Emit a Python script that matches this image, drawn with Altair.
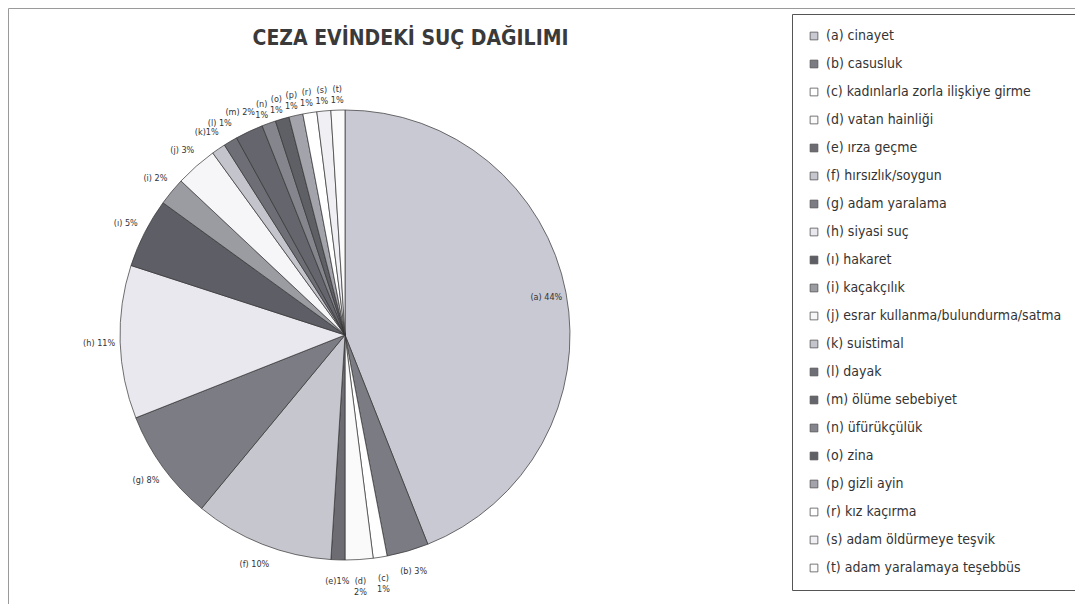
import math
import altair as alt
import pandas as pd

letters = ["a", "b", "c", "d", "e", "f", "g", "h", "ı", "i",
           "j", "k", "l", "m", "n", "o", "p", "r", "s", "t"]
names = ["cinayet", "casusluk", "kadınlarla zorla ilişkiye girme", "vatan hainliği",
         "ırza geçme", "hırsızlık/soygun", "adam yaralama", "siyasi suç", "hakaret",
         "kaçakçılık", "esrar kullanma/bulundurma/satma", "suistimal", "dayak",
         "ölüme sebebiyet", "üfürükçülük", "zina", "gizli ayin", "kız kaçırma",
         "adam öldürmeye teşvik", "adam yaralamaya teşebbüs"]
pcts = [44, 3, 1, 2, 1, 10, 8, 11, 5, 2, 3, 1, 1, 2, 1, 1, 1, 1, 1, 1]
colors = ["#c9c9d3", "#7b7b83", "#ffffff", "#fafafa", "#6c6c72", "#c6c6ce",
          "#7c7c84", "#e8e8ee", "#5e5e66", "#9b9ba2", "#f6f6f8", "#c4c4cc",
          "#6e6e76", "#65656d", "#85858d", "#5f5f66", "#a3a3ab", "#ffffff",
          "#f0f0f4", "#fbfbfb"]
two_line = {"c", "d", "n", "o", "p", "r", "s", "t"}
tight = {"e", "k"}

legend_names = [f"({l}) {n}" for l, n in zip(letters, names)]


def make_label(l, p):
    if l in two_line:
        return f"({l})\n{p}%"
    if l in tight:
        return f"({l}){p}%"
    return f"({l}) {p}%"


df = pd.DataFrame({
    "idx": list(range(len(letters))),
    "letter": letters,
    "legend": legend_names,
    "pct": pcts,
    "label": [make_label(l, p) for l, p in zip(letters, pcts)],
})

FONT = "Liberation Sans Narrow, DejaVu Sans Condensed, Arial Narrow, Liberation Sans, Arial"
CX, CY = 337, 327

theta_scale = alt.Scale(domain=[0, 100], range=[0, 2 * math.pi])

base = alt.Chart(df).transform_window(
    cum="sum(pct)", sort=[alt.SortField("idx")], frame=[None, 0]
).transform_calculate(
    start="datum.cum - datum.pct", mid="datum.cum - datum.pct / 2"
)

arcs = base.mark_arc(radius=225, stroke="#333333", strokeWidth=0.7).encode(
    theta=alt.Theta("start:Q", scale=theta_scale),
    theta2="cum:Q",
    x=alt.value(CX),
    y=alt.value(CY),
    color=alt.Color(
        "legend:N",
        scale=alt.Scale(domain=legend_names, range=colors),
        legend=alt.Legend(
            title=None, orient="none", legendX=784, legendY=6,
            symbolType="square", symbolSize=60, symbolStrokeColor="#555555",
            symbolStrokeWidth=0.8, labelFont=FONT, labelFontSize=14,
            labelColor="#333333", labelLimit=400, labelOffset=5,
            rowPadding=14, padding=15, strokeColor="#555555",
            direction="vertical",
        ),
    ),
    order=alt.Order("idx:Q"),
)

outer = base.transform_filter("datum.idx > 0").mark_text(
    radius=246, font=FONT, fontSize=9, color="#333333", lineBreak="\n"
).encode(
    theta=alt.Theta("mid:Q", scale=theta_scale),
    x=alt.value(CX),
    y=alt.value(CY),
    text="label:N",
)

inner = base.transform_filter("datum.idx == 0").mark_text(
    radius=205, font=FONT, fontSize=9, color="#333333"
).encode(
    theta=alt.Theta("mid:Q", scale=theta_scale),
    x=alt.value(CX),
    y=alt.value(CY),
    text="label:N",
)

chart = alt.layer(arcs, outer, inner).properties(
    width=1067, height=596, padding=0, autosize="none",
    title=alt.TitleParams(
        "CEZA EVİNDEKİ SUÇ DAĞILIMI", font=FONT, fontSize=21, fontWeight="bold",
        color="#3a3a3a", anchor="middle", frame="group", offset=-58, dx=-131,
        baseline="alphabetic",
    ),
).configure_view(stroke="#9a9a9a", strokeWidth=1)

chart.save("out.html", embed_options={"renderer": "svg", "actions": False})
